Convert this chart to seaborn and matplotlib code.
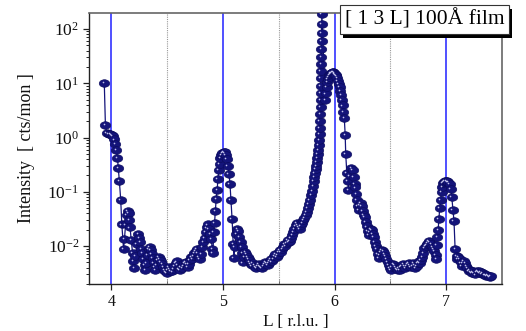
import numpy as np
import pandas as pd
import seaborn as sns
import matplotlib
matplotlib.use("Agg")
import matplotlib.pyplot as plt
from matplotlib.path import Path
from matplotlib.patches import Rectangle
from matplotlib.transforms import ScaledTranslation, Affine2D
from matplotlib.ticker import LogLocator, LogFormatterSciNotation, NullFormatter, FixedLocator

# ---------------- data ----------------
L_values = [
    3.937, 3.947, 3.957, 3.975, 3.990, 4.005, 4.015, 4.025, 4.035, 4.045,
    4.055, 4.063, 4.072, 4.084, 4.094, 4.110, 4.118, 4.128, 4.138, 4.148,
    4.155, 4.160, 4.168, 4.178, 4.190, 4.198, 4.205, 4.215, 4.228, 4.240,
    4.250, 4.258, 4.268, 4.278, 4.288, 4.298, 4.305, 4.315, 4.325, 4.335,
    4.345, 4.355, 4.365, 4.372, 4.380, 4.388, 4.395, 4.405, 4.415, 4.425,
    4.435, 4.445, 4.455, 4.465, 4.475, 4.485, 4.495, 4.505, 4.515, 4.525,
    4.535, 4.545, 4.555, 4.565, 4.575, 4.585, 4.595, 4.605, 4.615, 4.625,
    4.635, 4.645, 4.655, 4.665, 4.675, 4.685, 4.695, 4.705, 4.715, 4.725,
    4.735, 4.745, 4.755, 4.765, 4.775, 4.785, 4.795, 4.805, 4.815, 4.825,
    4.835, 4.845, 4.855, 4.865, 4.875, 4.885, 4.895, 4.905, 4.910, 4.918,
    4.925, 4.932, 4.940, 4.948, 4.955, 4.962, 4.970, 4.978, 4.986, 4.995,
    5.005, 5.015, 5.025, 5.035, 5.045, 5.055, 5.063, 5.072, 5.082, 5.092,
    5.098, 5.108, 5.118, 5.128, 5.138, 5.148, 5.158, 5.168, 5.175, 5.180,
    5.190, 5.200, 5.210, 5.220, 5.230, 5.240, 5.250, 5.260, 5.270, 5.280,
    5.290, 5.300, 5.310, 5.320, 5.330, 5.340, 5.350, 5.360, 5.370, 5.380,
    5.390, 5.400, 5.410, 5.420, 5.430, 5.440, 5.450, 5.460, 5.470, 5.480,
    5.490, 5.500, 5.510, 5.520, 5.530, 5.540, 5.550, 5.560, 5.570, 5.580,
    5.590, 5.600, 5.610, 5.620, 5.630, 5.640, 5.650, 5.660, 5.670, 5.680,
    5.690, 5.700, 5.710, 5.720, 5.730, 5.740, 5.750, 5.760, 5.770, 5.780,
    5.790, 5.800, 5.810, 5.815, 5.820, 5.825, 5.830, 5.835, 5.840, 5.845,
    5.850, 5.855, 5.860, 5.863, 5.866, 5.868, 5.870, 5.872, 5.874, 5.875,
    5.876, 5.877, 5.878, 5.879, 5.880, 5.881, 5.882, 5.883, 5.884, 5.885,
    5.886,
    5.916, 5.922, 5.928, 5.934, 5.940, 5.947, 5.954, 5.961, 5.968, 5.975,
    5.982, 5.989, 5.996, 6.003, 6.010, 6.017, 6.024, 6.031, 6.038, 6.045,
    6.052, 6.059, 6.066, 6.073, 6.080, 6.087, 6.095, 6.100, 6.110, 6.120,
    6.124, 6.135, 6.150, 6.162, 6.170, 6.180, 6.185, 6.195, 6.200, 6.210,
    6.215, 6.225, 6.235, 6.245, 6.255, 6.260, 6.270, 6.280, 6.290, 6.300,
    6.305, 6.315, 6.325, 6.335, 6.345, 6.350, 6.360, 6.370, 6.380, 6.390,
    6.395, 6.405, 6.415, 6.425, 6.435, 6.445, 6.455, 6.465, 6.475, 6.485,
    6.495, 6.505, 6.515, 6.525, 6.535, 6.545, 6.555, 6.565, 6.575, 6.585,
    6.595, 6.605, 6.615, 6.625, 6.635, 6.645, 6.655, 6.665, 6.675, 6.685,
    6.695, 6.705, 6.715, 6.725, 6.735, 6.745, 6.755, 6.765, 6.775, 6.785,
    6.795, 6.805, 6.815, 6.825, 6.835, 6.845, 6.855, 6.865, 6.875, 6.885,
    6.895, 6.905, 6.910, 6.915, 6.920, 6.928, 6.935, 6.942, 6.950, 6.958,
    6.965, 6.972, 6.980, 6.990, 7.000, 7.010, 7.020, 7.030, 7.040, 7.050,
    7.060, 7.070, 7.080, 7.095, 7.100, 7.110, 7.120, 7.130, 7.140, 7.150,
    7.160, 7.170, 7.180, 7.190, 7.200, 7.210, 7.220, 7.230, 7.240, 7.250,
    7.260, 7.270, 7.280, 7.290, 7.300, 7.310, 7.320, 7.330, 7.340, 7.350,
    7.360, 7.370, 7.380, 7.390, 7.400,
]

intensity = [
    10.0, 1.7, 1.2, 1.18, 1.15, 1.12, 1.05, 0.92, 0.76, 0.60,
    0.42, 0.27, 0.157, 0.072, 0.025, 0.0087, 0.0137, 0.025, 0.038, 0.045,
    0.040, 0.030, 0.022, 0.013, 0.0075, 0.0053, 0.0039, 0.0065, 0.011, 0.017,
    0.014, 0.012, 0.009, 0.0075, 0.0058, 0.0045, 0.0037, 0.0048, 0.0068, 0.0088,
    0.0098, 0.0085, 0.0072, 0.0060, 0.0050, 0.0042, 0.0037, 0.0045, 0.0055, 0.0062,
    0.0058, 0.0052, 0.0046, 0.0042, 0.0037, 0.0034, 0.0032, 0.0036, 0.0041, 0.0038,
    0.0035, 0.0034, 0.0038, 0.0043, 0.0048, 0.0052, 0.0045, 0.0038, 0.0036, 0.0041,
    0.0039, 0.0044, 0.0048, 0.0051, 0.0046, 0.0042, 0.0047, 0.0055, 0.0062, 0.0058,
    0.0066, 0.0074, 0.0082, 0.0088, 0.0075, 0.0062, 0.0058, 0.0072, 0.0095, 0.012,
    0.014, 0.018, 0.022, 0.025, 0.021, 0.017, 0.0135, 0.0087, 0.0075, 0.018,
    0.027, 0.045, 0.075, 0.11, 0.17, 0.25, 0.33, 0.42, 0.48, 0.52,
    0.55, 0.53, 0.48, 0.40, 0.30, 0.21, 0.14, 0.070, 0.031, 0.011,
    0.006, 0.0095, 0.017, 0.021, 0.019, 0.015, 0.012, 0.0095, 0.0075, 0.0050,
    0.0062, 0.0078, 0.0072, 0.0062, 0.0057, 0.0052, 0.0047, 0.0044, 0.0048, 0.0045,
    0.0041, 0.0039, 0.0043, 0.0046, 0.0044, 0.0041, 0.0039, 0.0043, 0.0047, 0.0051,
    0.0048, 0.0045, 0.0049, 0.0053, 0.0057, 0.0052, 0.0058, 0.0066, 0.0071, 0.0064,
    0.0069, 0.0077, 0.0084, 0.0079, 0.0089, 0.0098, 0.0108, 0.0102, 0.0115, 0.0128,
    0.0118, 0.0125, 0.014, 0.0158, 0.018, 0.021, 0.024, 0.027, 0.025, 0.023,
    0.021, 0.024, 0.027, 0.030, 0.033, 0.037, 0.043, 0.050, 0.060, 0.072,
    0.087, 0.105, 0.13, 0.16, 0.19, 0.22, 0.26, 0.30, 0.35, 0.42,
    0.50, 0.60, 0.72, 0.90, 1.15, 1.5, 2.0, 2.7, 3.6, 4.9,
    6.6, 9.0, 12.5, 17.0, 23.0, 31.0, 43.0, 60.0, 85.0, 125.0,
    186.0,
    5.0, 6.5, 8.5, 10.5, 12.0, 13.3, 14.2, 14.9, 15.4, 15.7,
    15.9, 15.9, 15.6, 15.1, 14.4, 13.5, 12.4, 11.1, 9.8, 8.5,
    7.2, 6.0, 4.9, 3.9, 3.0, 2.3, 1.13, 0.49, 0.22, 0.157,
    0.11, 0.20, 0.28, 0.25, 0.19, 0.14, 0.12, 0.09, 0.072, 0.055,
    0.047, 0.058, 0.062, 0.054, 0.045, 0.038, 0.034, 0.028, 0.023, 0.019,
    0.016, 0.018, 0.021, 0.020, 0.017, 0.015, 0.012, 0.010, 0.0087, 0.0072,
    0.0060, 0.0068, 0.0078, 0.0085, 0.0080, 0.0073, 0.0066, 0.0058, 0.0051, 0.0045,
    0.0039, 0.0037, 0.0042, 0.0047, 0.0045, 0.0041, 0.0038, 0.0036, 0.0039, 0.0037,
    0.0041, 0.0044, 0.0046, 0.0043, 0.0040, 0.0043, 0.0047, 0.0049, 0.0045, 0.0042,
    0.0044, 0.0048, 0.0045, 0.0040, 0.0043, 0.0048, 0.0052, 0.0049, 0.0055, 0.0062,
    0.0075, 0.0093, 0.0101, 0.0107, 0.0115, 0.0123, 0.0120, 0.0110, 0.0098, 0.0089,
    0.0080, 0.0068, 0.0057, 0.0105, 0.015, 0.020, 0.031, 0.050, 0.072, 0.10,
    0.125, 0.145, 0.152, 0.157, 0.158, 0.155, 0.150, 0.140, 0.115, 0.080,
    0.047, 0.029, 0.0087, 0.0065, 0.0057, 0.0062, 0.0058, 0.0050, 0.0043, 0.0049,
    0.0053, 0.0048, 0.0043, 0.0039, 0.0035, 0.0037, 0.0034, 0.0032, 0.0034, 0.0032,
    0.0030, 0.0033, 0.0035, 0.0034, 0.0032, 0.0033, 0.0031, 0.0032, 0.0030, 0.0029,
    0.0028, 0.0029, 0.0028, 0.0027, 0.0028,
]

bragg_L = [4, 5, 6, 7]
half_L = [4.5, 5.5, 6.5]
x_ticks = [4, 5, 6, 7]
title_text = "[ 1 3 L] 100Å film"
x_label = "L [ r.l.u. ]"
y_label = "Intensity  [ cts/mon ]"

df = pd.DataFrame({"L": L_values, "I": intensity})

# ---------------- style ----------------
sns.set_style("ticks")
plt.rcParams["font.family"] = ["Liberation Serif", "DejaVu Serif"]
plt.rcParams["mathtext.fontset"] = "custom"
plt.rcParams["mathtext.rm"] = "Liberation Serif"
plt.rcParams["mathtext.it"] = "Liberation Serif:italic"
plt.rcParams["mathtext.bf"] = "Liberation Serif:bold"

fig = plt.figure(figsize=(5.26, 3.31), dpi=100)
ax = fig.add_axes([89 / 526, 1 - 284 / 331, (502 - 89) / 526, (284 - 13) / 331])

# reference lines
for xv in bragg_L:
    ax.axvline(xv, color="#2020ff", lw=1.1, zorder=1)
for xv in half_L:
    ax.axvline(xv, color="#999999", lw=0.8, ls=(0, (1, 1)), zorder=1)

# ellipse marker (shaded ball look)
circ = Path.unit_circle()
ell = Affine2D().scale(1.0, 0.72).transform_path(circ)

sns.lineplot(data=df, x="L", y="I", sort=False, estimator=None, ax=ax,
             color="#14147a", lw=0.9, marker=ell, markersize=7.6,
             markeredgecolor="#0a0a5a", markeredgewidth=0.4, zorder=3)
# small highlight on each ball
hl = ax.transData + ScaledTranslation(-1.6 / 100, 0.9 / 100, fig.dpi_scale_trans)
ax.plot(df["L"], df["I"], ls="none", marker="o", markersize=1.2,
        markeredgewidth=0, color="#e0e0ff", alpha=0.85, transform=hl, zorder=4)

ax.set_yscale("log")
ax.set_xlim(3.8, 7.5)
ax.set_ylim(0.002, 197)
ax.set_xticks(x_ticks)
ax.set_xticklabels([str(t) for t in x_ticks])
ax.xaxis.set_minor_locator(FixedLocator(half_L))
ax.yaxis.set_major_locator(LogLocator(base=10, numticks=10))
ax.yaxis.set_major_formatter(LogFormatterSciNotation())
ax.yaxis.set_minor_locator(LogLocator(base=10, subs=np.arange(2, 10), numticks=20))
ax.yaxis.set_minor_formatter(NullFormatter())

ax.tick_params(axis="both", which="major", direction="out", length=4, width=0.9,
               colors="#222222", labelcolor="#111111")
ax.tick_params(axis="x", which="major", labelsize=11.5, pad=3)
ax.tick_params(axis="y", which="major", labelsize=12.5, pad=3)
ax.tick_params(axis="y", which="minor", direction="out", length=2.5, width=0.7, colors="#222222")
ax.tick_params(axis="x", which="minor", direction="in", length=3, width=0.7, colors="#555555")

for side in ["left", "bottom"]:
    ax.spines[side].set_color("#222222")
    ax.spines[side].set_linewidth(1.0)
for side in ["top", "right"]:
    ax.spines[side].set_visible(True)
    ax.spines[side].set_color("#666666")
    ax.spines[side].set_linewidth(1.2)

ax.set_xlabel(x_label, fontsize=12.5, labelpad=3, color="#111111")
ax.set_ylabel(y_label, fontsize=13, labelpad=9, color="#111111")

# label box with shadow
tx, ty = 424.5 / 526, 1 - 19.5 / 331
label = fig.text(tx, ty, title_text, fontsize=15.5, ha="center", va="center", color="black",
                 bbox=dict(boxstyle="square,pad=0.22", fc="white", ec="#333333", lw=0.8),
                 zorder=11)
fig.canvas.draw()
bb = label.get_bbox_patch().get_window_extent()
W, H = fig.bbox.width, fig.bbox.height
fig.patches.append(Rectangle(((bb.x0 + 3) / W, (bb.y0 - 4) / H), bb.width / W, bb.height / H,
                             transform=fig.transFigure, facecolor="black", edgecolor="none",
                             zorder=10))

fig.savefig("out.png", dpi=100)
